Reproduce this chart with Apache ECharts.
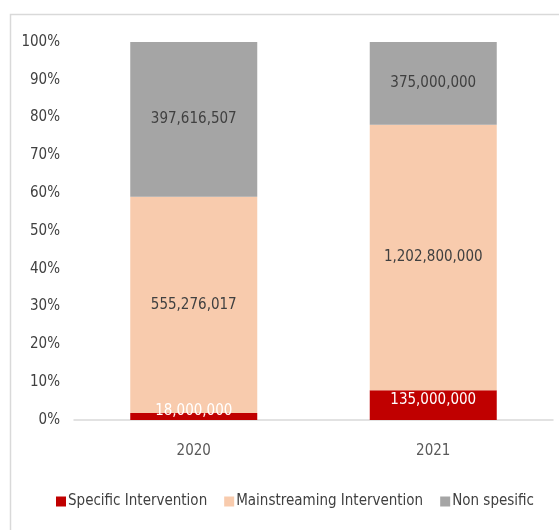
<!DOCTYPE html>
<html>
<head>
<meta charset="utf-8">
<script src="https://cdn.jsdelivr.net/npm/echarts@6/dist/echarts.min.js"></script>
<style>
  html, body { margin: 0; padding: 0; background: #fff; }
  #chart { width: 559px; height: 530px; }
</style>
</head>
<body>
<div id="chart"></div>
<script>
// data
var years = ['2020', '2021'];
var specific = [18000000, 135000000];
var mainstreaming = [555276017, 1202800000];
var nonSpecific = [397616507, 375000000];
var seriesNames = ['Specific Intervention', 'Mainstreaming Intervention', 'Non spesific'];
var colors = ['#c00000', '#f8cbad', '#a5a5a5'];

var FONT = '"DejaVu Sans Condensed", "Liberation Sans Narrow", sans-serif';

// 100% stacked: share of each year's total
var totals = years.map(function (y, i) {
    return specific[i] + mainstreaming[i] + nonSpecific[i];
});
function share(arr) {
    return arr.map(function (v, i) {
        return { value: v / totals[i], raw: v };
    });
}
function fmt(n) {
    return n.toString().replace(/\B(?=(\d{3})+(?!\d))/g, ',');
}

var chart = echarts.init(document.getElementById('chart'));

var labelBase = {
    show: true,
    position: 'inside',
    fontFamily: FONT,
    fontSize: 15,
    formatter: function (p) { return fmt(p.data.raw); }
};

var option = {
    animation: false,
    graphic: [{
        type: 'rect',
        shape: { x: 10.5, y: 14.5, width: 600, height: 600 },
        style: { fill: 'none', stroke: '#d9d9d9', lineWidth: 1.5 },
        silent: true
    }],
    grid: { left: 74, right: 6, top: 42, bottom: 110, containLabel: false },
    legend: {
        bottom: 16,
        left: 51,
        itemWidth: 10,
        itemHeight: 10,
        itemGap: 17,
        icon: 'rect',
        textStyle: { fontFamily: FONT, fontSize: 15, color: '#404040', padding: [0, 0, 0, -3] },
        data: seriesNames
    },
    xAxis: {
        type: 'category',
        data: years,
        axisLine: { lineStyle: { color: '#d9d9d9', width: 1.5 } },
        axisTick: { show: false },
        axisLabel: { fontFamily: FONT, fontSize: 15, color: '#595959', margin: 24 }
    },
    yAxis: {
        type: 'value',
        min: 0,
        max: 1,
        interval: 0.1,
        splitLine: { show: false },
        axisLine: { show: false },
        axisTick: { show: false },
        axisLabel: {
            fontFamily: FONT, fontSize: 15, color: '#404040', margin: 14,
            formatter: function (v) { return Math.round(v * 100) + '%'; }
        }
    },
    series: [
        {
            name: seriesNames[0],
            type: 'bar',
            stack: 'total',
            barWidth: 127,
            itemStyle: { color: colors[0] },
            label: Object.assign({}, labelBase, { color: '#ffffff', offset: [0, -5] }),
            data: share(specific)
        },
        {
            name: seriesNames[1],
            type: 'bar',
            stack: 'total',
            itemStyle: { color: colors[1] },
            label: Object.assign({}, labelBase, { color: '#404040' }),
            data: share(mainstreaming)
        },
        {
            name: seriesNames[2],
            type: 'bar',
            stack: 'total',
            itemStyle: { color: colors[2] },
            label: Object.assign({}, labelBase, { color: '#404040' }),
            data: share(nonSpecific)
        }
    ]
};

chart.setOption(option);
</script>
</body>
</html>
